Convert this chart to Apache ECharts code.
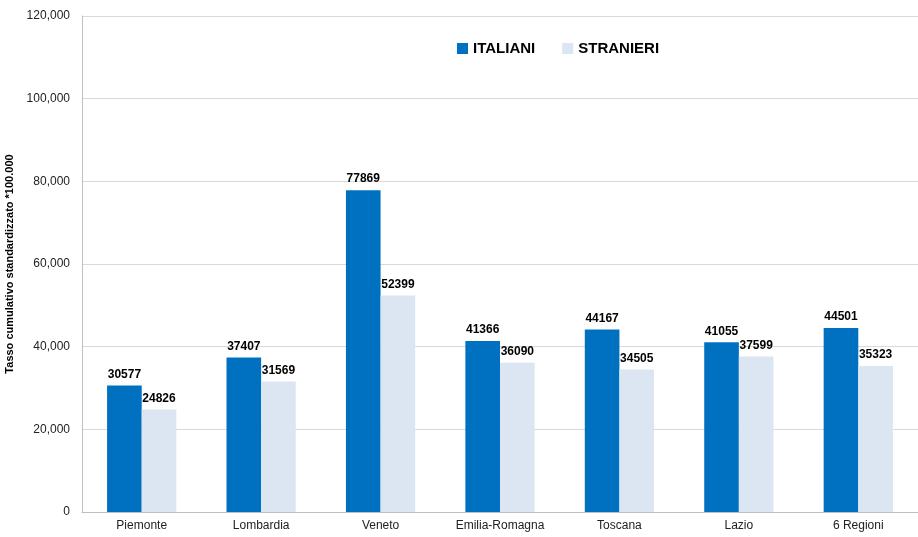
<!DOCTYPE html>
<html>
<head>
<meta charset="utf-8">
<script src="https://cdn.jsdelivr.net/npm/echarts@6/dist/echarts.min.js"></script>
<style>
  html, body { margin: 0; padding: 0; background: #fff; }
  #main { width: 918px; height: 537px; }
</style>
</head>
<body>
<div id="main"></div>
<script>
// dati
var regioni = ['Piemonte', 'Lombardia', 'Veneto', 'Emilia-Romagna', 'Toscana', 'Lazio', '6 Regioni'];
var italiani = [30577, 37407, 77869, 41366, 44167, 41055, 44501];
var stranieri = [24826, 31569, 52399, 36090, 34505, 37599, 35323];

var chart = echarts.init(document.getElementById('main'));

var labelStyle = {
  show: true,
  position: 'top',
  distance: 5,
  color: '#000',
  fontWeight: 'bold',
  fontSize: 12,
  fontFamily: 'Liberation Sans'
};

var option = {
  animation: false,
  textStyle: { fontFamily: 'Liberation Sans' },
  legend: {
    top: 36,
    left: 452,
    itemGap: 27,
    itemWidth: 11,
    itemHeight: 11,
    icon: 'rect',
    textStyle: { fontSize: 15, fontWeight: 'bold', color: '#000' },
    data: ['ITALIANI', 'STRANIERI']
  },
  grid: {   // area del grafico
    left: 82,
    right: 0,
    top: 16,
    bottom: 25,
    outerBoundsMode: 'none'
  },
  xAxis: {
    type: 'category',
    data: regioni,
    axisTick: { show: false },
    axisLine: { lineStyle: { color: '#BFBFBF' } },
    axisLabel: { color: '#222', fontSize: 12, margin: 8 }
  },
  yAxis: {
    type: 'value',
    min: 0,
    max: 120000,
    interval: 20000,
    name: 'Tasso cumulativo standardizzato *100.000',
    nameLocation: 'middle',
    nameGap: 60,
    nameTextStyle: { fontWeight: 'bold', fontSize: 11, color: '#000' },
    axisLine: { show: true, lineStyle: { color: '#BFBFBF' } },
    axisTick: { show: false },
    splitLine: { lineStyle: { color: '#D9D9D9', width: 1 } },
    axisLabel: {
      color: '#222',
      fontSize: 12,
      margin: 12,
      formatter: function (v) { return v === 0 ? '0' : v.toLocaleString('en-US'); }
    }
  },
  series: [
    {
      name: 'ITALIANI',
      type: 'bar',
      data: italiani,
      barGap: '0%',
      barCategoryGap: '42%',
      itemStyle: { color: '#0070C0' },
      label: labelStyle
    },
    {
      name: 'STRANIERI',
      type: 'bar',
      data: stranieri,
      itemStyle: { color: '#DCE6F2' },
      label: labelStyle
    }
  ]
};

chart.setOption(option);
</script>
</body>
</html>
